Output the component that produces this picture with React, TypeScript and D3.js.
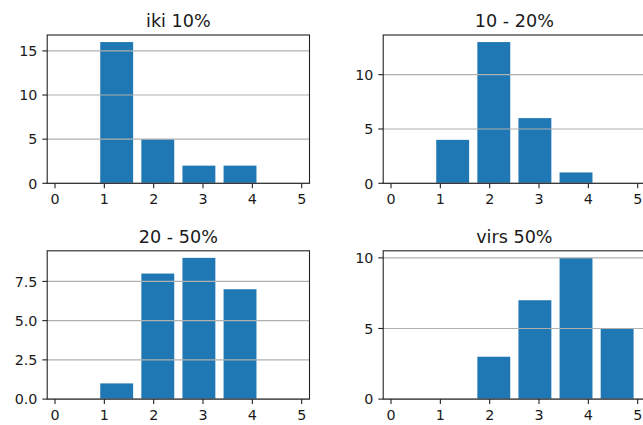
import React from "react";
import * as d3 from "d3";

const titles = ["iki 10%", "10 - 20%", "20 - 50%", "virs 50%"];
const countsIki10 = [0, 16, 5, 2, 2, 0];
const counts10to20 = [0, 4, 13, 6, 1, 0];
const counts20to50 = [0, 1, 8, 9, 7, 0];
const countsVirs50 = [0, 0, 3, 7, 10, 5];
const xTicks = [0, 1, 2, 3, 4, 5];
const yTicksIki10 = [0, 5, 10, 15];
const yTicks10to20 = [0, 5, 10];
const yTicks20to50 = [0, 2.5, 5, 7.5];
const yTicksVirs50 = [0, 5, 10];
const yTickFormats = ["d", "d", ".1f", "d"];

const binStart = 0;
const binEnd = 5;
const binCount = 6;
const rwidth = 0.8;

const panels = [
  { title: titles[0], counts: countsIki10, yTicks: yTicksIki10, fmt: yTickFormats[0] },
  { title: titles[1], counts: counts10to20, yTicks: yTicks10to20, fmt: yTickFormats[1] },
  { title: titles[2], counts: counts20to50, yTicks: yTicks20to50, fmt: yTickFormats[2] },
  { title: titles[3], counts: countsVirs50, yTicks: yTicksVirs50, fmt: yTickFormats[3] },
];

const W = 643;
const H = 425;
const colLeft = [47.2, 383.2];
const rowTop = [35, 250.8];
const axW = 262.3;
const axH = 148.3;
const FONT = "DejaVu Sans, sans-serif";
const TICK_FS = 14.3;
const TITLE_FS = 17.6;
const LW = 1.1;
const TICK_LEN = 4.9;
const PAD = 4.9;
const TEXT_COLOR = "#1a1a1a";

function Panel({ p, x0, y0 }: { p: any; x0: number; y0: number }) {
  const dr = (binEnd - binStart) / binCount;
  const edges = d3.range(binCount).map((i) => binStart + i * dr);
  const barsMin = binStart + dr * (1 - rwidth) / 2;
  const barsMax = binEnd - dr * (1 - rwidth) / 2;
  const m = (barsMax - barsMin) * 0.05;
  const x = d3.scaleLinear().domain([barsMin - m, barsMax + m]).range([x0, x0 + axW]);
  const ymax = (d3.max(p.counts as number[]) as number) * 1.05;
  const y = d3.scaleLinear().domain([0, ymax]).range([y0 + axH, y0]);
  const fmt = d3.format(p.fmt);
  const bottom = y0 + axH;
  return (
    <g>
      {p.counts.map((c: number, i: number) => {
        const left = edges[i] + dr * (1 - rwidth) / 2;
        return (
          <rect
            key={i}
            x={x(left)}
            y={y(c)}
            width={x(left + dr * rwidth) - x(left)}
            height={bottom - y(c)}
            fill="#1f77b4"
          />
        );
      })}
      {p.yTicks.map((t: number) => (
        <line key={"g" + t} x1={x0} x2={x0 + axW} y1={y(t)} y2={y(t)} stroke="#b0b0b0" strokeWidth={LW} />
      ))}
      <rect x={x0} y={y0} width={axW} height={axH} fill="none" stroke="#222" strokeWidth={LW} />
      {xTicks.map((t) => (
        <g key={"x" + t}>
          <line x1={x(t)} x2={x(t)} y1={bottom} y2={bottom + TICK_LEN} stroke="#222" strokeWidth={LW} />
          <text x={x(t)} y={bottom + TICK_LEN + PAD + 11} textAnchor="middle" fontSize={TICK_FS} fontFamily={FONT} fill={TEXT_COLOR}>
            {t}
          </text>
        </g>
      ))}
      {p.yTicks.map((t: number) => (
        <g key={"y" + t}>
          <line x1={x0 - TICK_LEN} x2={x0} y1={y(t)} y2={y(t)} stroke="#222" strokeWidth={LW} />
          <text x={x0 - TICK_LEN - PAD} y={y(t) + 5.2} textAnchor="end" fontSize={TICK_FS} fontFamily={FONT} fill={TEXT_COLOR}>
            {fmt(t)}
          </text>
        </g>
      ))}
      <text x={x0 + axW / 2} y={y0 - 8.3} textAnchor="middle" fontSize={TITLE_FS} fontFamily={FONT} fill={TEXT_COLOR}>
        {p.title}
      </text>
    </g>
  );
}

export default function App() {
  return (
    <svg width={W} height={H} style={{ position: "absolute", left: 0, top: 0, background: "#fff" }}>
      <rect x={0} y={0} width={W} height={H} fill="#fff" />
      {panels.map((p, i) => (
        <Panel key={i} p={p} x0={colLeft[i % 2]} y0={rowTop[Math.floor(i / 2)]} />
      ))}
    </svg>
  );
}
